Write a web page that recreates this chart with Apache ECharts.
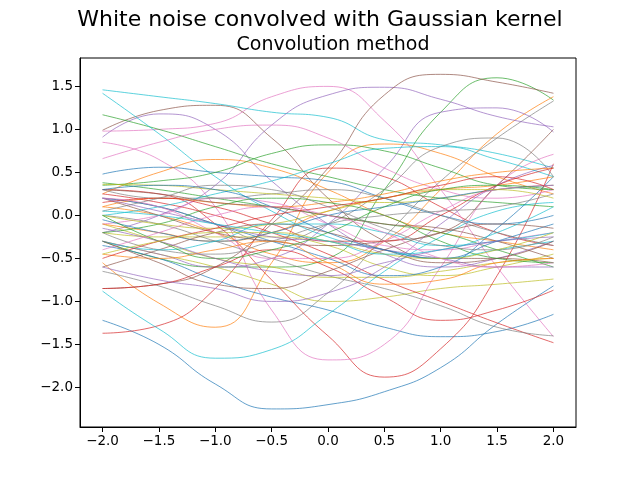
<!DOCTYPE html>
<html>
<head>
<meta charset="utf-8">
<script src="https://cdn.jsdelivr.net/npm/echarts@6/dist/echarts.min.js"></script>
<style>
  html, body { margin: 0; padding: 0; background: #fff; }
  #main { width: 640px; height: 480px; }
</style>
</head>
<body>
<div id="main"></div>
<script>
// sample positions along x
var xs = [-2, -1.5, -1, -0.5, 0, 0.5, 1, 1.5, 2];
var xTicks = [-2, -1.5, -1, -0.5, 0, 0.5, 1, 1.5, 2];
var yTicks = [-2, -1.5, -1, -0.5, 0, 0.5, 1, 1.5];

// curves, grouped by the colour they were drawn in
var blueLines = [
  [-1.22, -1.5, -1.96, -2.25, -2.2, -2.05, -1.77, -1.26, -0.82],
  [-0.35, -0.5, -0.75, -0.95, -1.1, -1.3, -1.41, -1.35, -1.15],
  [0.48, 0.56, 0.5, 0.45, 0.4, 0.2, 0.0, -0.1, 0.0],
  [0.2, 0.1, -0.1, -0.3, -0.5, -0.7, -0.6, -0.15, 0.45],
  [-0.05, -0.2, -0.3, -0.2, 0.0, 0.1, 0.2, 0.3, 0.35],
  [0.3, 0.35, 0.3, 0.1, -0.2, -0.4, -0.5, -0.3, -0.1]
];
var orangeLines = [
  [-0.55, -1.02, -1.3, -0.55, 0.5, 0.83, 0.72, 0.45, 0.25],
  [0.1, 0.0, -0.2, -0.45, -0.55, -0.3, 0.3, 0.95, 1.38],
  [0.25, 0.5, 0.65, 0.55, 0.3, 0.0, -0.2, -0.3, -0.4],
  [-0.1, -0.2, -0.3, -0.2, 0.05, 0.2, 0.3, 0.35, 0.45],
  [0.1, 0.2, 0.15, 0.1, 0.15, 0.25, 0.4, 0.5, 0.55],
  [-0.45, -0.5, -0.4, -0.3, -0.55, -0.8, -0.75, -0.55, -0.5]
];
var greenLines = [
  [-0.3, -0.5, -0.6, -0.6, -0.5, 0.3, 1.2, 1.6, 1.34],
  [1.17, 1.0, 0.8, 0.6, 0.45, 0.3, 0.2, 0.15, 0.1],
  [0.35, 0.4, 0.5, 0.72, 0.82, 0.75, 0.55, 0.35, 0.3],
  [0.38, 0.3, 0.2, 0.1, 0.0, -0.1, -0.2, -0.4, -0.6],
  [-0.2, -0.1, 0.1, 0.2, 0.15, 0.0, -0.3, -0.5, -0.55],
  [0.0, -0.3, -0.5, -0.4, -0.2, 0.1, 0.3, 0.35, 0.3]
];
var redLines = [
  [-1.37, -1.28, -0.85, -0.05, 0.55, 0.45, 0.1, -0.2, -0.35],
  [0.3, 0.25, -0.1, -0.75, -1.4, -1.88, -1.55, -0.7, 0.6],
  [0.25, 0.15, 0.0, -0.2, -0.45, -0.75, -1.0, -1.25, -1.48],
  [-0.85, -0.8, -0.6, -0.4, -0.6, -0.95, -1.22, -1.1, -0.87],
  [0.15, 0.2, 0.1, -0.1, -0.3, -0.3, 0.0, 0.35, 0.55],
  [-0.5, -0.3, -0.15, 0.0, 0.1, 0.2, 0.35, 0.45, 0.3]
];
var purpleLines = [
  [0.91, 1.18, 1.0, 0.4, -0.1, -0.45, -0.6, -0.5, -0.3],
  [-0.2, 0.0, 0.35, 1.05, 1.4, 1.49, 1.35, 1.15, 1.03],
  [-0.3, -0.45, -0.6, -0.5, -0.1, 0.55, 1.2, 1.25, 0.97],
  [-0.6, -0.75, -0.85, -1.0, -0.9, -0.6, -0.1, 0.35, 0.58],
  [0.2, 0.05, -0.1, -0.25, -0.3, -0.4, -0.5, -0.6, -0.6],
  [-0.15, -0.3, -0.5, -0.65, -0.7, -0.55, -0.4, -0.3, -0.25]
];
var brownLines = [
  [0.99, 1.22, 1.28, 0.9, 0.2, -0.3, -0.5, -0.5, -0.55],
  [-0.85, -0.8, -0.6, -0.1, 0.55, 1.4, 1.64, 1.55, 1.42],
  [0.2, 0.0, -0.2, -0.3, -0.35, -0.3, -0.2, 0.35, 1.0],
  [-0.6, -0.4, -0.2, -0.1, -0.2, -0.4, -0.55, -0.5, -0.3],
  [0.3, 0.25, 0.15, 0.1, 0.0, -0.1, -0.15, -0.3, -0.5],
  [-0.3, -0.55, -0.8, -0.85, -0.65, -0.4, -0.2, -0.1, -0.15]
];
var pinkLines = [
  [0.98, 1.0, 1.07, 1.38, 1.5, 1.1, 0.3, -0.6, -1.41],
  [0.85, 0.65, 0.1, -1.1, -1.68, -1.5, -0.6, 0.35, 0.71],
  [0.66, 0.85, 1.0, 1.05, 0.9, 0.55, 0.3, 0.2, 0.3],
  [-0.1, 0.0, 0.2, 0.15, -0.1, -0.35, -0.4, -0.3, -0.2],
  [0.2, 0.1, -0.2, -0.5, -0.5, -0.3, 0.05, 0.3, 0.35],
  [-0.4, -0.2, 0.0, 0.1, 0.0, -0.2, -0.5, -0.6, -0.55]
];
var grayLines = [
  [-0.65, -0.82, -1.05, -1.24, -0.9, -0.25, 0.4, 0.9, 1.33],
  [0.2, 0.1, -0.1, -0.3, -0.1, 0.3, 0.8, 0.9, 0.45],
  [0.0, -0.1, -0.3, -0.5, -0.7, -0.85, -1.05, -1.3, -1.4],
  [0.3, 0.2, 0.2, 0.25, 0.3, 0.2, 0.0, -0.2, -0.35],
  [-0.2, -0.4, -0.45, -0.3, -0.1, 0.0, 0.05, 0.1, 0.25],
  [0.05, 0.2, 0.35, 0.3, 0.1, -0.15, -0.35, -0.4, -0.25]
];
var oliveLines = [
  [-0.3, -0.45, -0.6, -0.8, -1.0, -0.95, -0.85, -0.8, -0.74],
  [-0.2, -0.25, -0.25, -0.25, -0.35, -0.6, -0.7, -0.6, -0.45],
  [-0.1, -0.3, -0.5, -0.6, -0.72, -0.72, -0.65, -0.55, -0.5],
  [0.36, 0.35, 0.3, 0.25, 0.2, 0.15, 0.2, 0.3, 0.35],
  [0.0, -0.1, -0.15, -0.1, 0.05, 0.2, 0.3, 0.3, 0.2],
  [-0.45, -0.3, -0.2, -0.2, -0.3, -0.45, -0.5, -0.4, -0.2]
];
var cyanLines = [
  [1.46, 1.38, 1.3, 1.2, 1.14, 0.88, 0.82, 0.72, 0.55],
  [1.42, 0.95, 0.45, 0.05, -0.25, -0.4, -0.5, -0.4, -0.3],
  [-0.88, -1.32, -1.66, -1.56, -1.15, -0.65, -0.25, 0.05, 0.15],
  [0.0, 0.1, 0.25, 0.4, 0.6, 0.78, 0.8, 0.65, 0.45],
  [-0.3, -0.4, -0.3, -0.1, -0.1, -0.2, -0.35, -0.3, -0.2],
  [0.05, 0.0, -0.1, -0.2, -0.3, -0.45, -0.4, -0.2, 0.1]
];

var groups = [blueLines, orangeLines, greenLines, redLines, purpleLines,
              brownLines, pinkLines, grayLines, oliveLines, cyanLines];

// plot in round-robin order so the colour cycle lines up like matplotlib's
var series = [];
for (var r = 0; r < 6; r++) {
  for (var c = 0; c < groups.length; c++) {
    var ys = groups[c][r];
    var pts = [];
    for (var i = 0; i < xs.length; i++) pts.push([xs[i], ys[i]]);
    series.push({
      type: 'line',
      data: pts,
      smooth: 0.5,
      symbol: 'none',
      lineStyle: { width: 0.7 },
      emphasis: { disabled: true }
    });
  }
}

function fmt(v) {
  return v.toFixed(1).replace('-', '\u2212');
}

var chart = echarts.init(document.getElementById('main'));
chart.setOption({
  animation: false,
  color: ['#1f77b4', '#ff7f0e', '#2ca02c', '#d62728', '#9467bd',
          '#8c564b', '#e377c2', '#7f7f7f', '#bcbd22', '#17becf'],
  textStyle: { fontFamily: 'DejaVu Sans' },
  title: [
    {
      text: 'White noise convolved with Gaussian kernel',
      left: 'center', top: 4,
      textStyle: { fontSize: 22, fontWeight: 'normal', color: '#000', fontFamily: 'DejaVu Sans' }
    },
    {
      // axes title sits over the plot box, not the figure
      text: 'Convolution method',
      left: 328, top: 31, textAlign: 'center',
      textStyle: { fontSize: 19, fontWeight: 'normal', color: '#000', fontFamily: 'DejaVu Sans' }
    }
  ],
  grid: {
    left: 80, right: 64, top: 58, bottom: 53,
    show: true, borderColor: '#000', borderWidth: 1
  },
  xAxis: {
    type: 'value',
    min: -2.2, max: 2.2,
    splitLine: { show: false },
    axisLine: { show: true, onZero: false, lineStyle: { color: '#000' } },
    axisTick: { show: true, length: 5, customValues: xTicks, lineStyle: { color: '#000' } },
    axisLabel: { customValues: xTicks, formatter: fmt, color: '#000', fontSize: 13.5, margin: 7 }
  },
  yAxis: {
    type: 'value',
    min: -2.46, max: 1.83,
    splitLine: { show: false },
    axisLine: { show: true, onZero: false, lineStyle: { color: '#000' } },
    axisTick: { show: true, length: 5, customValues: yTicks, lineStyle: { color: '#000' } },
    axisLabel: { customValues: yTicks, formatter: fmt, color: '#000', fontSize: 13.5, margin: 7 }
  },
  series: series
});
</script>
</body>
</html>
